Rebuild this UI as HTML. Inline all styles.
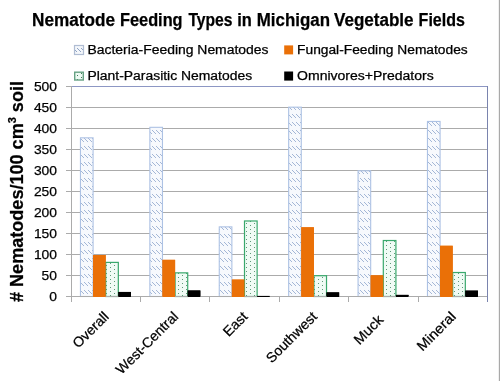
<!DOCTYPE html><html><head><meta charset="utf-8"><style>
html,body{margin:0;padding:0;background:#fff;}
svg{display:block;font-family:"Liberation Sans",sans-serif;will-change:transform;}
text{stroke:#000;stroke-width:0.25px;}
text.b{stroke-width:0.1px;}
</style></head><body>
<svg width="500" height="381" viewBox="0 0 500 381">
<defs>
<pattern id="pb" width="4" height="8" patternUnits="userSpaceOnUse">
<rect width="4" height="8" fill="#f7f9fd"/>
<rect x="0" y="2" width="1" height="1" fill="#a4b7d6"/><rect x="1" y="3" width="1" height="1" fill="#a4b7d6"/><rect x="2" y="4" width="1" height="1" fill="#a4b7d6"/><rect x="3" y="5" width="1" height="1" fill="#a4b7d6"/>
</pattern>
<pattern id="pbl" width="4" height="8" patternUnits="userSpaceOnUse" patternTransform="translate(1,6)">
<rect width="4" height="8" fill="#f4f7fb"/>
<rect x="0" y="2" width="1" height="1" fill="#8fa3c4"/><rect x="1" y="3" width="1" height="1" fill="#8fa3c4"/><rect x="2" y="4" width="1" height="1" fill="#8fa3c4"/><rect x="3" y="5" width="1" height="1" fill="#8fa3c4"/>
</pattern>
<pattern id="pg" width="8" height="4" patternUnits="userSpaceOnUse">
<rect width="8" height="4" fill="#f0fbf5"/>
<rect x="2" y="1" width="1" height="1" fill="#5f9a78"/><rect x="6" y="3" width="1" height="1" fill="#5f9a78"/>
</pattern>
<pattern id="pgl" width="8" height="4" patternUnits="userSpaceOnUse" patternTransform="translate(-1,0)">
<rect width="8" height="4" fill="#eefaf3"/>
<rect x="2" y="1" width="1" height="1" fill="#3f7a58"/><rect x="6" y="3" width="1" height="1" fill="#3f7a58"/>
</pattern>
</defs>
<rect width="500" height="381" fill="#fff"/>
<rect x="498" y="0" width="1" height="381" fill="#f0f0f0"/>
<rect x="499" y="0" width="1" height="381" fill="#a9a9a9"/>

<line x1="66" y1="296.5" x2="487" y2="296.5" stroke="#ababab" stroke-width="1"/>
<line x1="66" y1="275.5" x2="487" y2="275.5" stroke="#ababab" stroke-width="1"/>
<line x1="66" y1="254.5" x2="487" y2="254.5" stroke="#ababab" stroke-width="1"/>
<line x1="66" y1="233.5" x2="487" y2="233.5" stroke="#ababab" stroke-width="1"/>
<line x1="66" y1="212.5" x2="487" y2="212.5" stroke="#ababab" stroke-width="1"/>
<line x1="66" y1="191.5" x2="487" y2="191.5" stroke="#ababab" stroke-width="1"/>
<line x1="66" y1="170.5" x2="487" y2="170.5" stroke="#ababab" stroke-width="1"/>
<line x1="66" y1="149.5" x2="487" y2="149.5" stroke="#ababab" stroke-width="1"/>
<line x1="66" y1="128.5" x2="487" y2="128.5" stroke="#ababab" stroke-width="1"/>
<line x1="66" y1="107.5" x2="487" y2="107.5" stroke="#ababab" stroke-width="1"/>
<line x1="66" y1="86.5" x2="71" y2="86.5" stroke="#ababab" stroke-width="1"/>
<line x1="71" y1="86.5" x2="488" y2="86.5" stroke="#8d97c4" stroke-width="1"/>
<line x1="487.5" y1="86" x2="487.5" y2="302" stroke="#7a84ae" stroke-width="1"/>
<line x1="71.5" y1="86" x2="71.5" y2="302" stroke="#ababab" stroke-width="1"/>
<line x1="140.5" y1="297" x2="140.5" y2="302" stroke="#ababab" stroke-width="1"/>
<line x1="209.5" y1="297" x2="209.5" y2="302" stroke="#ababab" stroke-width="1"/>
<line x1="279.5" y1="297" x2="279.5" y2="302" stroke="#ababab" stroke-width="1"/>
<line x1="348.5" y1="297" x2="348.5" y2="302" stroke="#ababab" stroke-width="1"/>
<line x1="418.5" y1="297" x2="418.5" y2="302" stroke="#ababab" stroke-width="1"/>
<rect x="80.46" y="137.82" width="12.62" height="158.68" fill="url(#pb)" stroke="#adc2e4" stroke-width="1.1"/>
<rect x="93.08" y="255.00" width="12.62" height="41.50" fill="#ea7007"/>
<rect x="105.70" y="262.39" width="12.62" height="34.11" fill="url(#pg)" stroke="#39a86c" stroke-width="1.2"/>
<rect x="118.32" y="291.96" width="12.62" height="4.54" fill="#000"/>
<rect x="149.86" y="127.32" width="12.62" height="169.18" fill="url(#pb)" stroke="#adc2e4" stroke-width="1.1"/>
<rect x="162.48" y="259.83" width="12.62" height="36.67" fill="#ea7007"/>
<rect x="175.10" y="272.85" width="12.62" height="23.65" fill="url(#pg)" stroke="#39a86c" stroke-width="1.2"/>
<rect x="187.72" y="290.49" width="12.62" height="6.01" fill="#000"/>
<rect x="219.26" y="226.86" width="12.62" height="69.64" fill="url(#pb)" stroke="#adc2e4" stroke-width="1.1"/>
<rect x="231.88" y="279.57" width="12.62" height="16.93" fill="#ea7007"/>
<rect x="244.50" y="220.98" width="12.62" height="75.52" fill="url(#pg)" stroke="#39a86c" stroke-width="1.2"/>
<rect x="257.12" y="295.95" width="12.62" height="0.55" fill="#000"/>
<rect x="288.66" y="107.16" width="12.62" height="189.34" fill="url(#pb)" stroke="#adc2e4" stroke-width="1.1"/>
<rect x="301.28" y="227.28" width="12.62" height="69.22" fill="#ea7007"/>
<rect x="313.90" y="275.71" width="12.62" height="20.79" fill="url(#pg)" stroke="#39a86c" stroke-width="1.2"/>
<rect x="326.52" y="292.38" width="12.62" height="4.12" fill="#000"/>
<rect x="358.06" y="170.79" width="12.62" height="125.71" fill="url(#pb)" stroke="#adc2e4" stroke-width="1.1"/>
<rect x="370.68" y="275.37" width="12.62" height="21.13" fill="#ea7007"/>
<rect x="383.30" y="240.51" width="12.62" height="55.99" fill="url(#pg)" stroke="#39a86c" stroke-width="1.2"/>
<rect x="395.92" y="294.90" width="12.62" height="1.60" fill="#000"/>
<rect x="427.46" y="121.44" width="12.62" height="175.06" fill="url(#pb)" stroke="#adc2e4" stroke-width="1.1"/>
<rect x="440.08" y="245.76" width="12.62" height="50.74" fill="#ea7007"/>
<rect x="452.70" y="272.51" width="12.62" height="23.99" fill="url(#pg)" stroke="#39a86c" stroke-width="1.2"/>
<rect x="465.32" y="290.62" width="12.62" height="5.88" fill="#000"/>
<line x1="66" y1="296.5" x2="487" y2="296.5" stroke="#ababab" stroke-width="1"/>
<rect x="93.08" y="255.00" width="12.62" height="42.00" fill="#ea7007"/>
<rect x="118.32" y="291.96" width="12.62" height="5.04" fill="#000"/>
<rect x="162.48" y="259.83" width="12.62" height="37.17" fill="#ea7007"/>
<rect x="187.72" y="290.49" width="12.62" height="6.51" fill="#000"/>
<rect x="231.88" y="279.57" width="12.62" height="17.43" fill="#ea7007"/>
<rect x="257.12" y="295.95" width="12.62" height="1.05" fill="#000"/>
<rect x="301.28" y="227.28" width="12.62" height="69.72" fill="#ea7007"/>
<rect x="326.52" y="292.38" width="12.62" height="4.62" fill="#000"/>
<rect x="370.68" y="275.37" width="12.62" height="21.63" fill="#ea7007"/>
<rect x="395.92" y="294.90" width="12.62" height="2.10" fill="#000"/>
<rect x="440.08" y="245.76" width="12.62" height="51.24" fill="#ea7007"/>
<rect x="465.32" y="290.62" width="12.62" height="6.38" fill="#000"/>
<text x="32.00" y="26.3" font-size="17.6" font-weight="bold" fill="#000" textLength="83.00" lengthAdjust="spacingAndGlyphs">Nematode</text>
<text x="120.00" y="26.3" font-size="17.6" font-weight="bold" fill="#000" textLength="62.60" lengthAdjust="spacingAndGlyphs">Feeding</text>
<text x="188.40" y="26.3" font-size="17.6" font-weight="bold" fill="#000" textLength="44.10" lengthAdjust="spacingAndGlyphs">Types</text>
<text x="237.20" y="26.3" font-size="17.6" font-weight="bold" fill="#000" textLength="14.60" lengthAdjust="spacingAndGlyphs">in</text>
<text x="256.80" y="26.3" font-size="17.6" font-weight="bold" fill="#000" textLength="73.20" lengthAdjust="spacingAndGlyphs">Michigan</text>
<text x="334.00" y="26.3" font-size="17.6" font-weight="bold" fill="#000" textLength="79.60" lengthAdjust="spacingAndGlyphs">Vegetable</text>
<text x="418.60" y="26.3" font-size="17.6" font-weight="bold" fill="#000" textLength="46.30" lengthAdjust="spacingAndGlyphs">Fields</text>
<rect x="74.5" y="45.5" width="9" height="9" fill="url(#pbl)" stroke="#b0bdd3" stroke-width="1.2"/>
<text x="87.5" y="54" font-size="12.3" fill="#000" textLength="181" lengthAdjust="spacingAndGlyphs">Bacteria-Feeding Nematodes</text>
<rect x="284.2" y="45.4" width="8.9" height="9" fill="#ea7007"/>
<text x="297.1" y="54" font-size="12.3" fill="#000" textLength="170.6" lengthAdjust="spacingAndGlyphs">Fungal-Feeding Nematodes</text>
<rect x="74.7" y="72.2" width="8.6" height="7.8" fill="url(#pgl)" stroke="#66a283" stroke-width="1.4"/>
<text x="87.5" y="80.2" font-size="12.3" fill="#000" textLength="164.6" lengthAdjust="spacingAndGlyphs">Plant-Parasitic Nematodes</text>
<rect x="284.2" y="71.5" width="8.9" height="9.1" fill="#000"/>
<text x="297.1" y="80.2" font-size="12.3" fill="#000" textLength="136.6" lengthAdjust="spacingAndGlyphs">Omnivores+Predators</text>
<text x="57" y="301.10" font-size="13.5" fill="#000" text-anchor="end" textLength="7.7" lengthAdjust="spacingAndGlyphs">0</text>
<text x="57" y="280.10" font-size="13.5" fill="#000" text-anchor="end" textLength="15.4" lengthAdjust="spacingAndGlyphs">50</text>
<text x="57" y="259.10" font-size="13.5" fill="#000" text-anchor="end" textLength="23.1" lengthAdjust="spacingAndGlyphs">100</text>
<text x="57" y="238.10" font-size="13.5" fill="#000" text-anchor="end" textLength="23.1" lengthAdjust="spacingAndGlyphs">150</text>
<text x="57" y="217.10" font-size="13.5" fill="#000" text-anchor="end" textLength="23.1" lengthAdjust="spacingAndGlyphs">200</text>
<text x="57" y="196.10" font-size="13.5" fill="#000" text-anchor="end" textLength="23.1" lengthAdjust="spacingAndGlyphs">250</text>
<text x="57" y="175.10" font-size="13.5" fill="#000" text-anchor="end" textLength="23.1" lengthAdjust="spacingAndGlyphs">300</text>
<text x="57" y="154.10" font-size="13.5" fill="#000" text-anchor="end" textLength="23.1" lengthAdjust="spacingAndGlyphs">350</text>
<text x="57" y="133.10" font-size="13.5" fill="#000" text-anchor="end" textLength="23.1" lengthAdjust="spacingAndGlyphs">400</text>
<text x="57" y="112.10" font-size="13.5" fill="#000" text-anchor="end" textLength="23.1" lengthAdjust="spacingAndGlyphs">450</text>
<text x="57" y="91.10" font-size="13.5" fill="#000" text-anchor="end" textLength="23.1" lengthAdjust="spacingAndGlyphs">500</text>
<text transform="translate(23.2,302) rotate(-90)" x="0" y="0" font-size="18" font-weight="bold" fill="#000" textLength="221" lengthAdjust="spacingAndGlyphs"># Nematodes/100 cm<tspan font-size="11" dy="-7">3</tspan><tspan dy="7"> soil</tspan></text>
<text transform="translate(109.70,317.50) rotate(-45)" x="0" y="0" font-size="14" fill="#000" text-anchor="end" textLength="44.36" lengthAdjust="spacingAndGlyphs">Overall</text>
<text transform="translate(179.10,317.50) rotate(-45)" x="0" y="0" font-size="14" fill="#000" text-anchor="end" textLength="81.44" lengthAdjust="spacingAndGlyphs">West-Central</text>
<text transform="translate(248.50,317.50) rotate(-45)" x="0" y="0" font-size="14" fill="#000" text-anchor="end" textLength="28.02" lengthAdjust="spacingAndGlyphs">East</text>
<text transform="translate(317.90,317.50) rotate(-45)" x="0" y="0" font-size="14" fill="#000" text-anchor="end" textLength="65.38" lengthAdjust="spacingAndGlyphs">Southwest</text>
<text transform="translate(384.12,320.68) rotate(-45)" x="0" y="0" font-size="14" fill="#000" text-anchor="end" textLength="34.95" lengthAdjust="spacingAndGlyphs">Muck</text>
<text transform="translate(456.70,317.50) rotate(-45)" x="0" y="0" font-size="14" fill="#000" text-anchor="end" textLength="48.41" lengthAdjust="spacingAndGlyphs">Mineral</text>
</svg></body></html>
